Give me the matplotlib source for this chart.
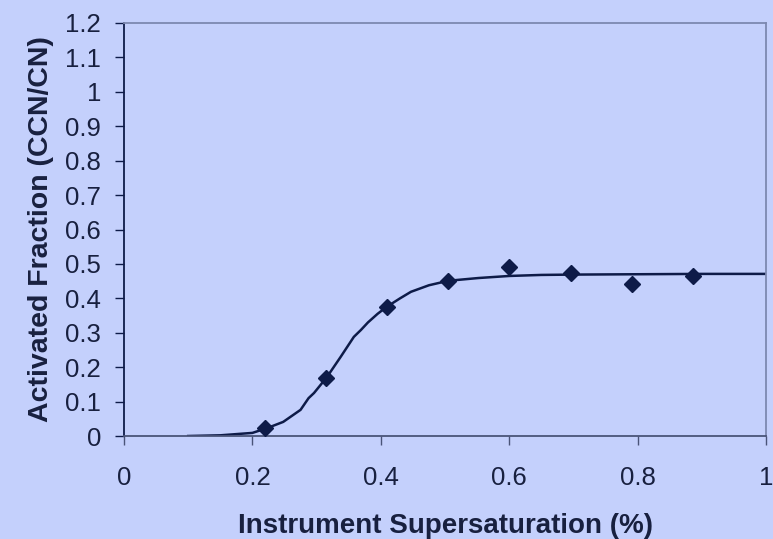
import matplotlib
matplotlib.use("Agg")
import matplotlib.pyplot as plt

# Measured activated fraction vs. instrument supersaturation
ss_measured = [0.219, 0.314, 0.409, 0.505, 0.600, 0.697, 0.791, 0.886]
af_measured = [0.023, 0.169, 0.375, 0.451, 0.491, 0.474, 0.442, 0.465]

# Sigmoid fit curve through the measurements
ss_fit = [0.10, 0.15, 0.20, 0.223, 0.248, 0.275, 0.2875, 0.296, 0.316, 0.3375,
          0.358, 0.369, 0.38, 0.395, 0.409, 0.43, 0.447, 0.475, 0.505, 0.552,
          0.60, 0.65, 0.70, 0.80, 0.90, 1.00]
af_fit = [0.000, 0.002, 0.009, 0.023, 0.041, 0.076, 0.110, 0.125, 0.171, 0.230,
          0.288, 0.308, 0.330, 0.355, 0.375, 0.400, 0.419, 0.438, 0.451, 0.459,
          0.465, 0.468, 0.469, 0.470, 0.471, 0.471]

x_ticks = [0, 0.2, 0.4, 0.6, 0.8, 1.0]
x_tick_labels = ["0", "0.2", "0.4", "0.6", "0.8", "1"]
y_ticks = [0, 0.1, 0.2, 0.3, 0.4, 0.5, 0.6, 0.7, 0.8, 0.9, 1.0, 1.1, 1.2]
y_tick_labels = ["0", "0.1", "0.2", "0.3", "0.4", "0.5", "0.6", "0.7", "0.8",
                 "0.9", "1", "1.1", "1.2"]

bg = "#C4D0FC"
navy = "#0E1B48"
text_col = "#18203F"
frame_gray = "#7D88B0"

plt.rcParams["font.family"] = ["Liberation Sans", "DejaVu Sans"]

fig = plt.figure(figsize=(7.73, 5.39), dpi=100, facecolor=bg)
ax = fig.add_axes([124 / 773, 1 - 436 / 539, (766 - 124) / 773, (436 - 23) / 539])
ax.set_facecolor(bg)

ax.plot(ss_fit, af_fit, color=navy, lw=1.8, zorder=2)
ax.plot(ss_measured, af_measured, linestyle="none", marker="D", ms=8,
        color=navy, zorder=3)

ax.set_xlim(0, 1)
ax.set_ylim(0, 1.2)
ax.set_xticks(x_ticks)
ax.set_xticklabels(x_tick_labels)
ax.set_yticks(y_ticks)
ax.set_yticklabels(y_tick_labels)

for side in ("top", "right"):
    ax.spines[side].set_color(frame_gray)
    ax.spines[side].set_linewidth(1.3)
ax.spines["left"].set_color(navy)
ax.spines["left"].set_linewidth(1.3)
ax.spines["bottom"].set_color("#4A5478")
ax.spines["bottom"].set_linewidth(1.3)

ax.tick_params(axis="y", direction="out", length=6.5, width=1.0, color=navy,
               pad=10, labelsize=18.5, labelcolor=text_col)
ax.tick_params(axis="x", direction="out", length=6.5, width=1.0, color="#4A5478",
               pad=15, labelsize=18.5, labelcolor=text_col)

ax.set_xlabel("Instrument Supersaturation (%)", fontsize=20, fontweight="bold",
              color=text_col, labelpad=17)
ax.set_ylabel("Activated Fraction (CCN/CN)", fontsize=20.5, fontweight="bold",
              color=text_col, labelpad=8)

fig.savefig("out.png", dpi=100, facecolor=bg)
